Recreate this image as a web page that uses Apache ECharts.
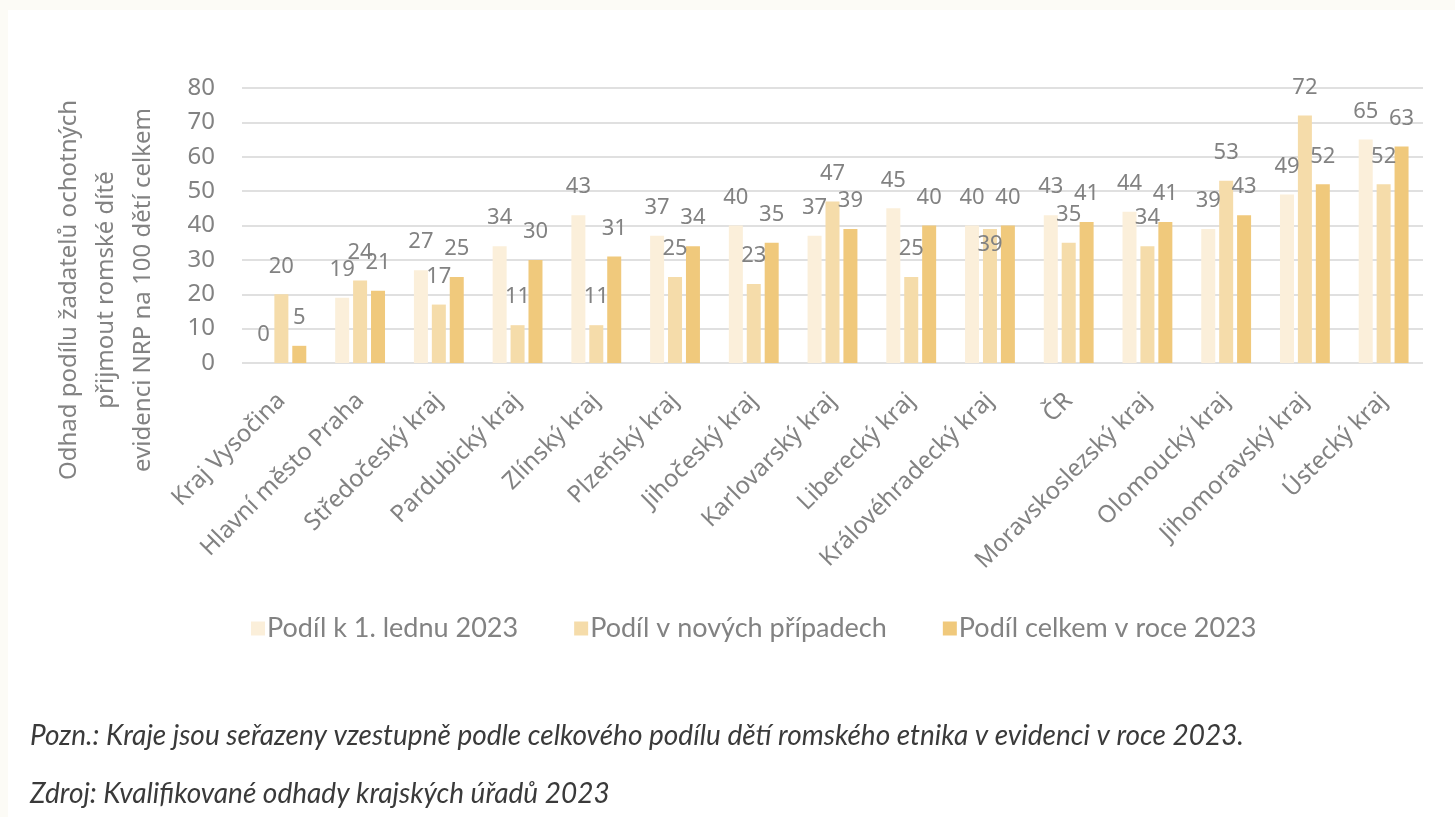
<!DOCTYPE html>
<html>
<head>
<meta charset="utf-8">
<script src="https://cdn.jsdelivr.net/npm/echarts@6/dist/echarts.min.js"></script>
<style>
  html, body { margin: 0; padding: 0; background: #fcfbf6; }
  #panel { position: absolute; left: 8px; top: 10px; right: 0; bottom: 0; background: #ffffff; }
  #chart { position: absolute; left: 0; top: 0; width: 1455px; height: 817px; }
</style>
</head>
<body>
<div id="panel"></div>
<div id="chart"></div>
<script>
// kraje, seřazené podle celkového podílu
const categories = [
  'Kraj Vysočina', 'Hlavní město Praha', 'Středočeský kraj', 'Pardubický kraj',
  'Zlínský kraj', 'Plzeňský kraj', 'Jihočeský kraj', 'Karlovarský kraj',
  'Liberecký kraj', 'Královéhradecký kraj', 'ČR', 'Moravskoslezský kraj',
  'Olomoucký kraj', 'Jihomoravský kraj', 'Ústecký kraj'
];
const seriesNames = ['Podíl k 1. lednu 2023', 'Podíl v nových případech', 'Podíl celkem v roce 2023'];
const podilLeden = [0, 19, 27, 34, 43, 37, 40, 37, 45, 40, 43, 44, 39, 49, 65];
const podilNove = [20, 24, 17, 11, 11, 25, 23, 47, 25, 39, 35, 34, 53, 72, 52];
const podilCelkem = [5, 21, 25, 30, 31, 34, 35, 39, 40, 40, 41, 41, 43, 52, 63];
const yTicks = [0, 10, 20, 30, 40, 50, 60, 70, 80];

const axisTitle = 'Odhad podílu žadatelů ochotných\npřijmout romské dítě\nevidenci NRP na 100 dětí celkem';
const noteText = 'Pozn.: Kraje jsou seřazeny vzestupně podle celkového podílu dětí romského etnika v evidenci v roce 2023.';
const sourceText = 'Zdroj: Kvalifikované odhady krajských úřadů 2023';

const colors = ['#fbefda', '#f5dcaa', '#f0c97c'];
const grey = '#828282';
const sans = 'Noto Sans';

const chart = echarts.init(document.getElementById('chart'), null, {renderer: 'canvas'});

function makeSeries(name, values, color, idx){
  return {
    name,
    type: 'bar',
    barWidth: 14,
    barGap: '28%',
    itemStyle: {color},
    data: values.map((v, i) => {
      // Excel posunul jeden popisek dovnitř sloupce
      if(idx === 1 && i === 9){
        return {value: v, label: {offset: [0, 44]}};
      }
      return v;
    }),
    label: {
      show: true,
      position: 'top',
      distance: 17,
      color: grey,
      fontFamily: sans,
      fontSize: 22
    }
  };
}

chart.setOption({
  animation: false,
  backgroundColor: 'transparent',
  color: colors,
  textStyle: {fontFamily: sans},
  grid: {left: 242, right: 32, top: 88, bottom: 454},
  legend: {
    left: 246,
    top: 610,
    itemWidth: 14,
    itemHeight: 14,
    itemGap: 56,
    icon: 'rect',
    textStyle: {fontFamily: 'Lato', fontSize: 27, color: grey, padding: [0, 0, 0, -3]},
    data: seriesNames
  },
  xAxis: {
    type: 'category',
    data: categories,
    axisLine: {show: false},
    axisTick: {show: false},
    axisLabel: {
      rotate: 45,
      interval: 0,
      margin: 34,
      color: grey,
      fontFamily: sans,
      fontSize: 24
    }
  },
  yAxis: {
    type: 'value',
    min: yTicks[0],
    max: yTicks[yTicks.length - 1],
    interval: 10,
    axisLine: {show: false},
    axisTick: {show: false},
    axisLabel: {
      color: grey,
      fontFamily: sans,
      fontSize: 24,
      margin: 27
    },
    splitLine: {lineStyle: {color: '#e0e0e0', width: 2}}
  },
  graphic: [
    {
      type: 'text',
      x: 106,
      y: 290,
      rotation: Math.PI / 2,
      style: {
        text: axisTitle,
        fill: grey,
        font: '24px "Noto Sans"',
        lineHeight: 37,
        align: 'center',
        verticalAlign: 'middle'
      }
    },
    {
      type: 'text',
      left: 30,
      top: 722,
      style: {
        text: noteText,
        fill: '#3a3a3a',
        font: 'italic 28px Lato'
      }
    },
    {
      type: 'text',
      left: 30,
      top: 780,
      style: {
        text: sourceText,
        fill: '#3a3a3a',
        font: 'italic 28px Lato'
      }
    }
  ],
  series: [
    makeSeries(seriesNames[0], podilLeden, colors[0], 0),
    makeSeries(seriesNames[1], podilNove, colors[1], 1),
    makeSeries(seriesNames[2], podilCelkem, colors[2], 2)
  ]
});
</script>
</body>
</html>
